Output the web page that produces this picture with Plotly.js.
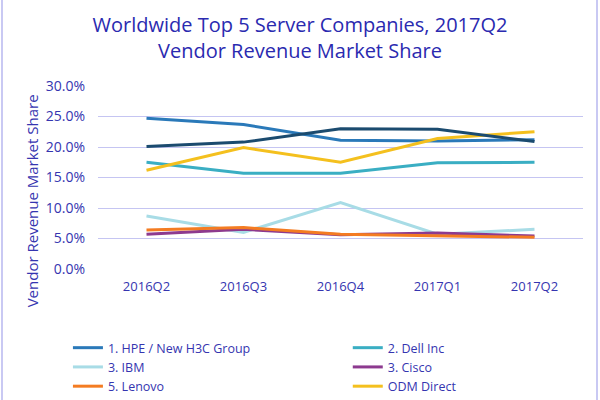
<!DOCTYPE html>
<html>
<head>
<meta charset="utf-8">
<script src="https://cdn.plot.ly/plotly-3.0.1.min.js"></script>
<style>
  html, body { margin: 0; padding: 0; background: #fff; }
  #chart { width: 600px; height: 400px; position: relative; }
  #chart::before, #chart::after { content: ""; position: absolute; top: 0; bottom: 0; width: 2px; background: #c9c9f3; z-index: 5; }
  #chart::before { left: 1px; }
  #chart::after { left: 596px; }
</style>
</head>
<body>
<div id="chart"></div>
<script>
const quarters = ["2016Q2", "2016Q3", "2016Q4", "2017Q1", "2017Q2"];
const hpe = [0.247, 0.237, 0.211, 0.210, 0.212];
const dell = [0.175, 0.157, 0.157, 0.174, 0.175];
const ibm = [0.087, 0.060, 0.109, 0.057, 0.065];
const cisco = [0.057, 0.065, 0.056, 0.059, 0.054];
const lenovo = [0.064, 0.068, 0.057, 0.054, 0.052];
const odm = [0.162, 0.199, 0.175, 0.214, 0.225];
const hpeGroup = [0.201, 0.208, 0.230, 0.229, 0.209];

const seriesNames = ["1. HPE / New H3C Group", "2. Dell Inc", "3. IBM", "3. Cisco", "5. Lenovo", "ODM Direct", "HPE / New H3C Group"];
const seriesValues = [hpe, dell, ibm, cisco, lenovo, odm, hpeGroup];
const seriesColors = ["#2a79b9", "#3aaec3", "#a8dce6", "#8d3a8f", "#f47c22", "#f4c01e", "#1b4b6f"];
const inLegend = [true, true, true, true, true, true, false];

const traces = seriesValues.map((v, i) => ({
  x: quarters, y: v, name: seriesNames[i], type: "scatter", mode: "lines",
  line: { color: seriesColors[i], width: 3 }, showlegend: inLegend[i]
}));

const txt = "#3535b0";
const layout = {
  width: 600, height: 400,
  margin: { l: 98, r: 17, t: 86, b: 131, autoexpand: false },
  paper_bgcolor: "#ffffff", plot_bgcolor: "#ffffff",
  font: { family: "Open Sans, sans-serif", color: txt, size: 13 },
  title: { text: "Worldwide Top 5 Server Companies, 2017Q2<br>Vendor Revenue Market Share",
           font: { size: 20, color: "#2a2ab0" }, x: 0.5, xanchor: "center",
           yref: "container", y: 0.92, yanchor: "middle" },
  xaxis: { type: "category", range: [-0.5, 4.5], showgrid: false, zeroline: false, showline: false,
           ticks: "", ticklabelstandoff: 8, tickfont: { size: 13, color: txt }, automargin: false },
  yaxis: { range: [0, 0.3], dtick: 0.05, tickformat: ".1%", gridcolor: "#c5c5f2", gridwidth: 1,
           zeroline: false, showline: false, ticks: "", ticklabelstandoff: 12,
           tickfont: { size: 14, color: txt }, automargin: false },
  annotations: [{ text: "Vendor Revenue Market Share", textangle: -90, showarrow: false,
                  xref: "paper", yref: "paper", x: -0.136, y: 0.37, xanchor: "center", yanchor: "middle",
                  font: { size: 15, color: txt } }],
  legend: { orientation: "h", x: -0.062, xanchor: "left", y: -0.35, yanchor: "top",
            entrywidth: 0.48, entrywidthmode: "fraction", tracegroupgap: 0,
            font: { size: 12.5, color: txt }, bgcolor: "rgba(0,0,0,0)" },
  showlegend: true
};

Plotly.newPlot("chart", traces, layout, { displayModeBar: false, staticPlot: true });
</script>
</body>
</html>
